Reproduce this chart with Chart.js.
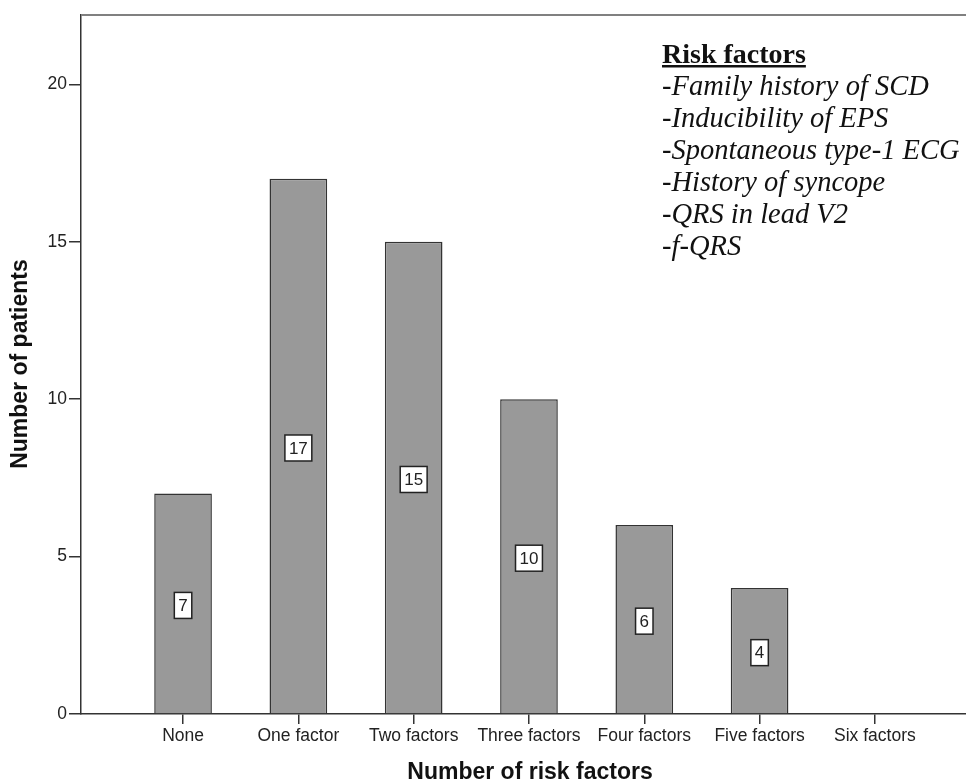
<!DOCTYPE html>
<html>
<head>
<meta charset="utf-8">
<script src="https://cdn.jsdelivr.net/npm/chart.js@4/dist/chart.umd.min.js"></script>
<style>
  html, body { margin: 0; padding: 0; background: #fff; }
  #wrap { width: 966px; height: 784px; position: relative; }
</style>
</head>
<body>
<div id="wrap"><canvas id="chart"></canvas></div>
<script>
// Data
const categories = ['None', 'One factor', 'Two factors', 'Three factors', 'Four factors', 'Five factors', 'Six factors'];
const patients = [7, 17, 15, 10, 6, 4, 0];
const yTicks = [0, 5, 10, 15, 20];
const legendTitle = 'Risk factors';
const legendItems = [
    '-Family history of SCD',
    '-Inducibility of EPS',
    '-Spontaneous type-1 ECG',
    '-History of syncope',
    '-QRS in lead V2',
    '-f-QRS'
];

const sans = '"Liberation Sans", Arial, sans-serif';
const serif = '"Liberation Serif", "Times New Roman", serif';

// white boxes with the count in the middle of each bar
const barLabels = {
    id: 'barLabels',
    afterDatasetsDraw(chart) {
        const ctx = chart.ctx;
        const meta = chart.getDatasetMeta(0);
        ctx.save();
        ctx.font = '17px ' + sans;
        ctx.textAlign = 'center';
        ctx.textBaseline = 'middle';
        meta.data.forEach((bar, i) => {
            const v = patients[i];
            if (!v) return;
            const txt = String(v);
            const cy = (bar.y + bar.base) / 2 + 2;
            const w = ctx.measureText(txt).width + 8;
            const h = 26;
            ctx.fillStyle = '#fff';
            ctx.fillRect(bar.x - w / 2, cy - h / 2, w, h);
            ctx.strokeStyle = '#222';
            ctx.lineWidth = 1.5;
            ctx.strokeRect(bar.x - w / 2, cy - h / 2, w, h);
            ctx.fillStyle = '#222';
            ctx.fillText(txt, bar.x, cy + 1);
        });
        ctx.restore();
    }
};

// frame top line, axis titles and the risk factor note
const decorations = {
    id: 'decorations',
    afterDraw(chart) {
        const ctx = chart.ctx;
        const a = chart.chartArea;
        ctx.save();
        ctx.strokeStyle = '#808080';
        ctx.lineWidth = 2;
        ctx.beginPath();
        ctx.moveTo(a.left, a.top);
        ctx.lineTo(a.right, a.top);
        ctx.stroke();

        ctx.fillStyle = '#111';
        ctx.font = 'bold 23px ' + sans;
        ctx.textAlign = 'center';
        ctx.textBaseline = 'middle';
        ctx.fillText('Number of risk factors', 530, 773);
        ctx.save();
        ctx.translate(21, 364);
        ctx.rotate(-Math.PI / 2);
        ctx.fillText('Number of patients', 0, 0);
        ctx.restore();

        // note
        ctx.textAlign = 'left';
        ctx.textBaseline = 'alphabetic';
        ctx.font = 'bold 28px ' + serif;
        const x0 = 662;
        ctx.fillText(legendTitle, x0, 63);
        const tw = ctx.measureText(legendTitle).width;
        ctx.fillRect(x0, 65, tw, 2.5);
        ctx.font = 'italic 28.5px ' + serif;
        legendItems.forEach((t, i) => {
            ctx.fillText(t, x0, 95 + i * 32);
        });
        ctx.restore();
    }
};

new Chart(document.getElementById('chart'), {
    type: 'bar',
    data: {
        datasets: [{
            data: patients.map((v, i) => ({ x: i, y: v })),
            backgroundColor: '#999999',
            borderColor: '#333333',
            borderWidth: 1.5,
            barPercentage: 0.5,
            categoryPercentage: 1
        }]
    },
    options: {
        responsive: true,
        maintainAspectRatio: false,
        animation: false,
        layout: { padding: { top: 15, right: 0, left: 0, bottom: 0 } },
        plugins: {
            legend: { display: false },
            tooltip: { enabled: false }
        },
        scales: {
            x: {
                type: 'linear',
                offset: false,
                min: -0.885,
                max: 6.79,
                afterBuildTicks: s => { s.ticks = categories.map((c, i) => ({ value: i })); },
                afterFit: s => { s.height = 70; },
                ticks: {
                    callback: v => categories[v] || '',
                    color: '#222',
                    font: { size: 17.5, family: sans },
                    padding: 2,
                    maxRotation: 0,
                    autoSkip: false
                },
                grid: { display: true, offset: false, drawOnChartArea: false, drawTicks: true, tickLength: 10, color: '#333', lineWidth: 1.5 },
                border: { display: true, color: '#333', width: 1.5 }
            },
            y: {
                min: 0,
                max: 22.2,
                afterBuildTicks: s => { s.ticks = yTicks.map(v => ({ value: v })); },
                afterFit: s => { s.width = 81; },
                ticks: {
                    color: '#222',
                    font: { size: 17.5, family: sans },
                    padding: 2
                },
                grid: { display: true, drawOnChartArea: false, drawTicks: true, tickLength: 12, color: '#333', lineWidth: 1.5 },
                border: { display: true, color: '#333', width: 1.5 }
            }
        }
    },
    plugins: [barLabels, decorations]
});
</script>
</body>
</html>
